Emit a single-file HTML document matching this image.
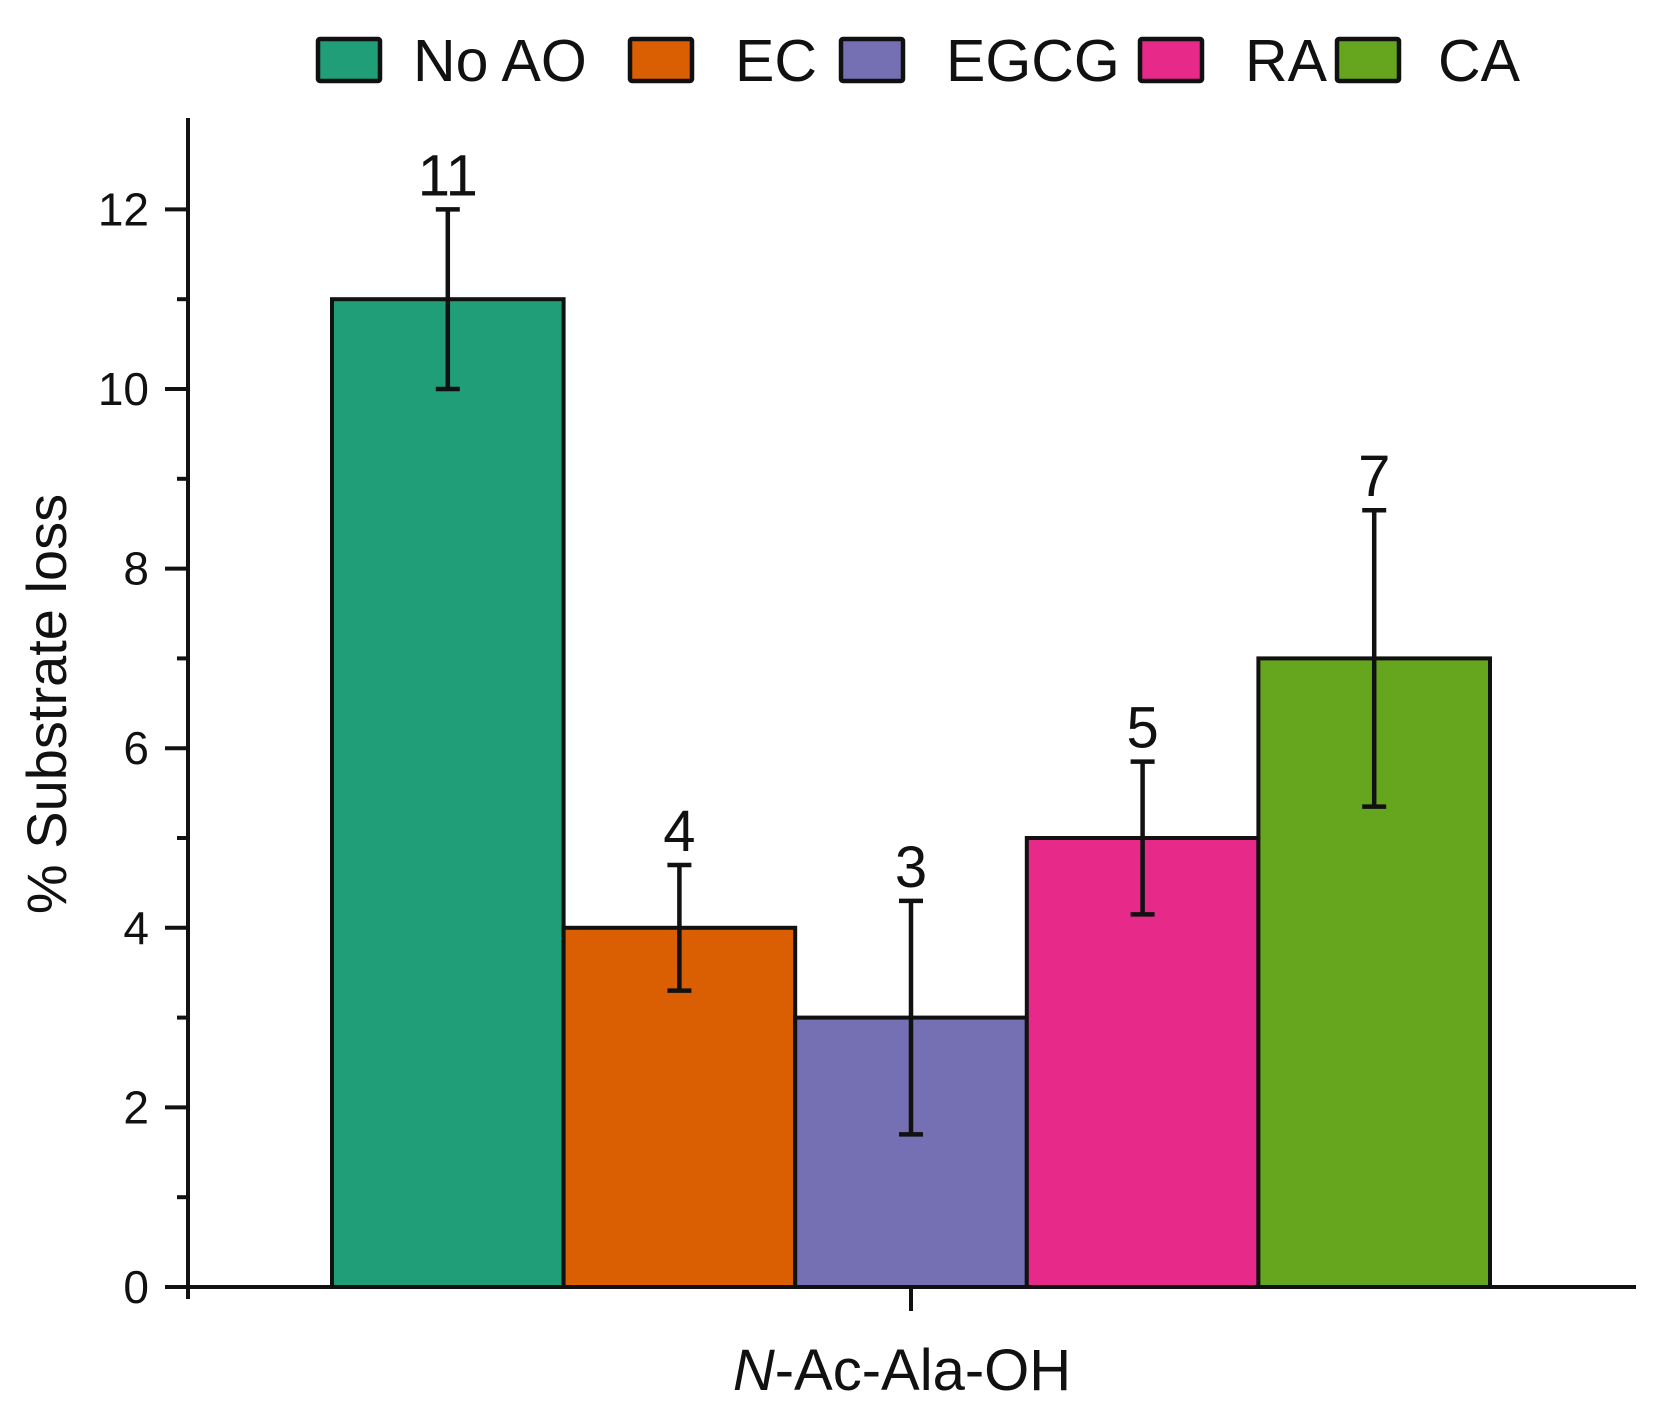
<!DOCTYPE html>
<html><head><meta charset="utf-8"><style>
body{margin:0;background:#fff;}
svg{display:block;font-family:"Liberation Sans",Arial,sans-serif;}
</style></head><body>
<svg id="chart" width="1654" height="1419" viewBox="0 0 1654 1419" xmlns="http://www.w3.org/2000/svg">
<g id="legend"></g>
<g id="bars"></g>
<g id="axes"></g>
<text x="0" y="0" transform="translate(66,704) rotate(-90)" text-anchor="middle" font-size="56" fill="#111">% Substrate loss</text>
<text x="902" y="1390" text-anchor="middle" font-size="58" fill="#111"><tspan font-style="italic">N</tspan>-Ac-Ala-OH</text>
</svg>
<script>
const categories = ["No AO","EC","EGCG","RA","CA"];
const values = [11,4,3,5,7];
const errors = [1,0.7,1.3,0.85,1.65];
const colors = ["#1f9e77","#d95f02","#7570b3","#e7298a","#66a61e"];
const yTicks = [0,2,4,6,8,10,12];
const legendSwatchX = [318,630,841,1140,1337];
const legendTextX = [413,735,946,1245,1438];

const NS="http://www.w3.org/2000/svg";
const y0=1287, unit=89.8, barLeft=332, barW=231.6;
function yScale(v){return y0-v*unit;}
function xScale(i){return barLeft+i*barW;}
function mk(tag,attrs,parent){const e=document.createElementNS(NS,tag);for(const k in attrs)e.setAttribute(k,attrs[k]);parent.appendChild(e);return e;}

const bars=document.getElementById('bars');
values.forEach((v,i)=>{
  const r=mk('rect',{x:xScale(i),y:yScale(v),width:barW,height:y0-yScale(v),fill:colors[i],stroke:'#111','stroke-width':4},bars);
  
  
  const cx=xScale(i)+barW/2, top=yScale(v+errors[i]), bot=yScale(v-errors[i]);
  const g=mk('g',{stroke:'#111','stroke-width':4.5},bars);
  
  
  mk('line',{x1:cx,y1:top,x2:cx,y2:bot},g);
  mk('line',{x1:cx-12,y1:top,x2:cx+12,y2:top},g);
  mk('line',{x1:cx-12,y1:bot,x2:cx+12,y2:bot},g);
  const t=mk('text',{x:cx,y:top-14,'text-anchor':'middle','font-size':58,fill:'#111'},bars);
  
  
  t.textContent=String(v);
});

const axes=document.getElementById('axes');
mk('line',{x1:188,y1:118,x2:188,y2:y0+2,stroke:'#111','stroke-width':4},axes);
mk('line',{x1:186,y1:y0,x2:1636,y2:y0,stroke:'#111','stroke-width':4},axes);
mk('line',{x1:911,y1:y0,x2:911,y2:y0+24,stroke:'#111','stroke-width':4},axes);
mk('line',{x1:188,y1:y0,x2:188,y2:y0+12,stroke:'#111','stroke-width':4},axes);
yTicks.forEach(v=>{
  mk('line',{x1:165,y1:yScale(v),x2:188,y2:yScale(v),stroke:'#111','stroke-width':4},axes);
  if(v<12) mk('line',{x1:177,y1:yScale(v+1),x2:188,y2:yScale(v+1),stroke:'#111','stroke-width':4},axes);
  const t=mk('text',{x:149,y:yScale(v)+16,'text-anchor':'end','font-size':46,fill:'#111'},axes);
  
  
  t.textContent=String(v);
});

const legend=document.getElementById('legend');
categories.forEach((c,i)=>{
  const g=mk('g',{},legend);
  
  
  mk('rect',{x:legendSwatchX[i],y:39,width:62,height:42,fill:colors[i],stroke:'#111','stroke-width':4.5,rx:2},g);
  const t=mk('text',{x:legendTextX[i],y:81,'font-size':59,fill:'#111'},g);
  t.textContent=c;
});
</script>
</body></html>
